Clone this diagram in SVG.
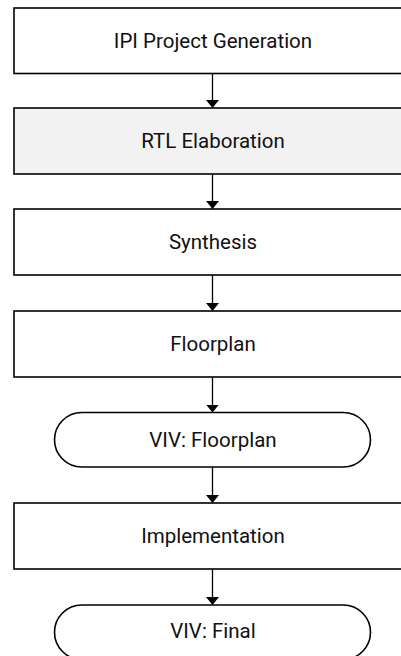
<svg xmlns="http://www.w3.org/2000/svg" width="401" height="656" viewBox="0 0 401 656">
  <defs>
    <marker id="arrow" viewBox="0 0 8 13" refX="8" refY="6.5" markerWidth="8" markerHeight="13" markerUnits="userSpaceOnUse" orient="auto">
      <path d="M0,0 L8,6.5 L0,13 Z" fill="#000"/>
    </marker>
  </defs>
  <style>
    .box { fill: #fff; stroke: #000; stroke-width: 1.6; }
    .box.shaded { fill: #f2f2f2; }
    .label { font-family: Roboto, "Liberation Sans", sans-serif; font-size: 20.5px; fill: #111; text-anchor: middle; }
    .edge { stroke: #000; stroke-width: 1.3; fill: none; marker-end: url(#arrow); }
  </style>
  <rect width="401" height="656" fill="#fff"/>

  <g id="ipi-project-generation">
    <rect class="box" x="14" y="8" width="398" height="65.5"/>
    <text class="label" x="213" y="47.7">IPI Project Generation</text>
  </g>
  <g id="rtl-elaboration">
    <rect class="box shaded" x="14" y="108" width="398" height="66"/>
    <text class="label" x="213" y="148">RTL Elaboration</text>
  </g>
  <g id="synthesis">
    <rect class="box" x="14" y="209" width="398" height="66"/>
    <text class="label" x="213" y="249">Synthesis</text>
  </g>
  <g id="floorplan">
    <rect class="box" x="14" y="311" width="398" height="66"/>
    <text class="label" x="213" y="351">Floorplan</text>
  </g>
  <g id="viv-floorplan">
    <rect class="box" x="54.5" y="412.5" width="316" height="54.5" rx="27.25" ry="27.25"/>
    <text class="label" x="213" y="446.5">VIV: Floorplan</text>
  </g>
  <g id="implementation">
    <rect class="box" x="14" y="503" width="398" height="66"/>
    <text class="label" x="213" y="543">Implementation</text>
  </g>
  <g id="viv-final">
    <rect class="box" x="54.5" y="605" width="316" height="54.5" rx="27.25" ry="27.25"/>
    <text class="label" x="213" y="638.3">VIV: Final</text>
  </g>

  <g id="connectors">
    <line class="edge" x1="212.5" y1="73.5" x2="212.5" y2="108"/>
    <line class="edge" x1="212.5" y1="174" x2="212.5" y2="209"/>
    <line class="edge" x1="212.5" y1="275" x2="212.5" y2="311"/>
    <line class="edge" x1="212.5" y1="377" x2="212.5" y2="412.5"/>
    <line class="edge" x1="212.5" y1="467" x2="212.5" y2="503"/>
    <line class="edge" x1="212.5" y1="569" x2="212.5" y2="605"/>
  </g>
</svg>
